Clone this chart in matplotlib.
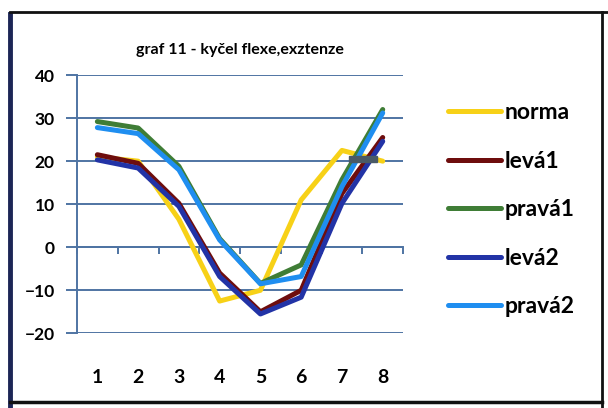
import matplotlib.pyplot as plt
from matplotlib.patches import Rectangle
from matplotlib.lines import Line2D

plt.rcParams['font.family'] = ['Lato', 'DejaVu Sans']

# data
categories = [1, 2, 3, 4, 5, 6, 7, 8]
norma = [21, 20, 6.5, -12.5, -10, 11, 22.5, 20]
leva1 = [21.5, 19.5, 10.2, -6, -15, -10, 12.5, 25.5]
prava1 = [29.2, 27.7, 18.8, 2, -8.4, -4.1, 15.7, 32]
leva2 = [20.3, 18.4, 9.5, -6.8, -15.5, -11.6, 10.2, 24.6]
prava2 = [27.8, 26.4, 18, 1.7, -8.5, -6.8, 14.1, 31.2]

series = [
    ('norma', norma, '#f7d117'),
    ('levá1', leva1, '#6e0d0d'),
    ('pravá1', prava1, '#3f7d36'),
    ('levá2', leva2, '#2233a6'),
    ('pravá2', prava2, '#1f8ef0'),
]

fig = plt.figure(figsize=(6.08, 4.08), dpi=100)
ax = fig.add_axes([0.1266, 0.183, 0.5364, 0.633])

grid_c = '#4f74a3'
for name, vals, col in series:
    ax.plot(categories, vals, color=col, lw=3.6, label=name, solid_capstyle='round')

ax.set_xlim(0.5, 8.5)
ax.set_ylim(-20, 40)
ax.set_yticks(range(-20, 41, 10))
ax.set_xticks(categories)
ax.yaxis.grid(True, color=grid_c, lw=1.4)
ax.set_axisbelow(True)
for s in ['top', 'right', 'bottom']:
    ax.spines[s].set_visible(False)
ax.spines['left'].set_color(grid_c)
ax.spines['left'].set_linewidth(1.4)
ax.tick_params(axis='y', length=8, color=grid_c, width=1.4, labelsize=12.5, pad=8)
ax.tick_params(axis='x', length=0, labelsize=14, pad=26)
for t in ax.get_xticklabels() + ax.get_yticklabels():
    t.set_fontweight('bold')

# category axis crossing at zero, ticks between categories
sec = ax.secondary_xaxis(1 / 3)
sec.set_xticks([c + 0.5 for c in [0] + categories])
sec.tick_params(length=5, color=grid_c, width=1.4, labelbottom=False)
sec.spines['bottom'].set_color(grid_c)
sec.spines['bottom'].set_linewidth(1.4)

# scan artifact
ax.add_patch(Rectangle((0.835, 0.663), 0.086, 0.024, transform=ax.transAxes,
                       color='#4a5a66', zorder=5))

ax.set_title('graf 11 - kyčel flexe,exztenze', fontsize=11.5, fontweight='bold', pad=15)

leg = fig.legend(loc='upper left', bbox_to_anchor=(0.703, 0.80), frameon=False,
                 fontsize=16.5, handlelength=2.3, handletextpad=0.15, labelspacing=1.2)
for t in leg.get_texts():
    t.set_fontweight('bold')

# page frame
W, H = 608, 408
fig.add_artist(Line2D([10 / W, 10 / W], [0, 1 - 14 / H], color='#1c2556', lw=3.5))
fig.add_artist(Line2D([10 / W, 1], [1 - 12 / H, 1 - 12 / H], color='#111111', lw=2))
fig.add_artist(Line2D([602 / W, 602 / W], [0, 1 - 12 / H], color='#111111', lw=2))
fig.add_artist(Line2D([10 / W, 602 / W], [1 - 402 / H, 1 - 402 / H], color='#111111', lw=2.5))

fig.savefig('out.png', dpi=100)
